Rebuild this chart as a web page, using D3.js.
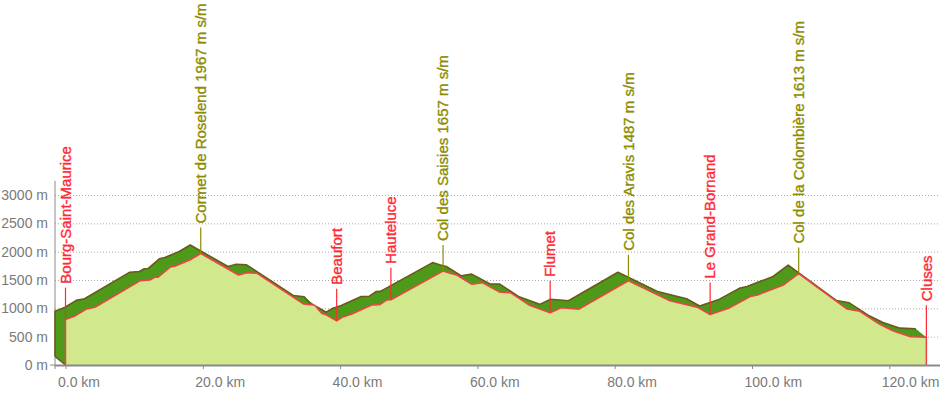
<!DOCTYPE html>
<html><head><meta charset="utf-8">
<script src="https://cdn.jsdelivr.net/npm/d3@7/dist/d3.min.js"></script>
<style>
html,body{margin:0;padding:0;background:#fff;}
svg{display:block;font-family:"Liberation Sans",Arial,Helvetica,sans-serif;}
</style></head>
<body>
<svg id="chart" width="944" height="396"></svg>
<script>
// ---- data ----
const profileKm   = [0, 1.4, 3.1, 4.3, 10.9, 12.3, 13.0, 13.5, 15.2, 16.0, 18.1, 19.7, 25.2, 26.4, 27.9, 34.7, 36.3, 37.3, 38.1, 39.5, 40.3, 41.7, 44.6, 45.8, 46.8, 47.4, 55.0, 56.0, 57.0, 59.2, 60.7, 63.3, 64.8, 67.5, 70.6, 72.2, 74.8, 82.0, 87.9, 92.0, 93.9, 96.6, 99.8, 100.8, 104.6, 106.8, 113.8, 115.7, 118.6, 120.6, 123.1, 125.4];
const profileElev = [800, 865, 990, 1018, 1488, 1500, 1548, 1548, 1724, 1747, 1853, 1967, 1588, 1629, 1618, 1076, 1053, 912, 877, 780, 841, 900, 1059, 1064, 1147, 1150, 1657, 1618, 1588, 1424, 1453, 1283, 1277, 1059, 920, 1010, 985, 1487, 1140, 1020, 890, 1000, 1210, 1235, 1412, 1613, 988, 947, 718, 600, 500, 490];

const labelNames = ["Bourg-Saint-Maurice", "Cormet de Roselend 1967 m s/m", "Beaufort", "Hauteluce", "Col des Saisies 1657 m s/m", "Flumet", "Col des Aravis 1487 m s/m", "Le Grand-Bornand", "Col de la Colombière 1613 m s/m", "Cluses"];
const labelKm    = [0, 19.7, 39.5, 47.4, 55.0, 70.6, 82.0, 93.9, 106.8, 125.4];
const labelTypes = ["town", "col", "town", "town", "col", "town", "col", "town", "col", "town"];

const xTicks = [0, 20, 40, 60, 80, 100, 120];
const yTicks = [0, 500, 1000, 1500, 2000, 2500, 3000];

// ---- layout ----
const svg = d3.select("#chart");
const axisX = 55, rightX = 940;
const x = d3.scaleLinear().domain([0, 120]).range([65.5, 889.3]);
const y = d3.scaleLinear().domain([0, 3000]).range([365, 195]);
const depth = {dx: -10.5, dy: -8.5};

const colors = {
  light: "#d2e88d", dark: "#4f9a1b", darkLine: "#6a5a1c", red: "#f2414a",
  town: "#ff2a35", col: "#8c8c00", axis: "#8a8a8a", text: "#7a7a7a", grid: "#aaaaaa"
};
const font = '"Liberation Sans",Arial,Helvetica,sans-serif';

const data = profileKm.map((k, i) => ({km: k, elev: profileElev[i]}));
const lastKm = profileKm[profileKm.length - 1];

// grid lines
svg.append("g")
  .attr("transform", `translate(${axisX},0)`)
  .call(d3.axisLeft(y).tickValues(yTicks.filter(v => v > 0)).tickSize(-(rightX - axisX)).tickFormat(""))
  .call(g => g.select(".domain").remove())
  .call(g => g.selectAll("line").attr("stroke", colors.grid).attr("stroke-dasharray", "1,2"));

// y axis labels
svg.append("g")
  .attr("transform", `translate(${axisX - 7},0)`)
  .call(d3.axisLeft(y).tickValues(yTicks).tickSize(0).tickPadding(0).tickFormat(d => d + " m"))
  .call(g => g.select(".domain").remove())
  .call(g => g.selectAll("text").attr("fill", colors.text).attr("font-size", 14).attr("font-family", font));

// y axis line
svg.append("line").attr("x1", axisX).attr("x2", axisX).attr("y1", y(3250)).attr("y2", y(0) + 4)
  .attr("stroke", colors.axis).attr("stroke-width", 1);
svg.append("line").attr("x1", axisX - 5).attr("x2", axisX).attr("y1", y(0)).attr("y2", y(0))
  .attr("stroke", colors.axis).attr("stroke-width", 1);

// ---- 3D profile ----
const area = d3.area().x(d => x(d.km)).y0(y(0)).y1(d => y(d.elev));
const topLine = d3.line().x(d => x(d.km)).y(d => y(d.elev));
const areaPath = area(data);

const prof = svg.append("g");
const steps = 24;
for (let s = steps; s >= 1; s--) {
  const t = s / steps;
  prof.append("path").attr("d", areaPath)
    .attr("transform", `translate(${depth.dx * t},${depth.dy * t})`)
    .attr("fill", colors.dark);
}
// back outline
const backPts = [{km: 0, elev: 0}].concat(data);
prof.append("path").attr("d", topLine(backPts))
  .attr("transform", `translate(${depth.dx},${depth.dy})`)
  .attr("fill", "none").attr("stroke", colors.darkLine).attr("stroke-width", 1.6).attr("stroke-linejoin", "round");
prof.append("line")
  .attr("x1", x(0) + depth.dx).attr("y1", y(0) + depth.dy).attr("x2", x(0)).attr("y2", y(0))
  .attr("stroke", colors.darkLine).attr("stroke-width", 1.6);

// front face
prof.append("path").attr("d", areaPath).attr("fill", colors.light);
const frontPts = [{km: 0, elev: 0}].concat(data, [{km: lastKm, elev: 0}]);
prof.append("path").attr("d", topLine(frontPts))
  .attr("fill", "none").attr("stroke", colors.red).attr("stroke-width", 1.5).attr("stroke-linejoin", "round");

// x axis
svg.append("line").attr("x1", axisX).attr("x2", rightX).attr("y1", y(0) + 0.5).attr("y2", y(0) + 0.5)
  .attr("stroke", colors.axis).attr("stroke-width", 2);
svg.append("g")
  .attr("transform", `translate(0,${y(0) + 1})`)
  .call(d3.axisBottom(x).tickValues(xTicks).tickSize(3).tickPadding(8).tickFormat(d => d.toFixed(1) + " km"))
  .call(g => g.select(".domain").remove())
  .call(g => g.selectAll("line").attr("stroke", colors.axis))
  .call(g => g.selectAll("text").attr("fill", colors.text).attr("font-size", 14).attr("font-family", font)
      .attr("text-anchor", "start").attr("x", -8));

// ---- labels ----
const bis = d3.bisector(d => d.km).left;
function elevAt(k) {
  const i = Math.max(1, Math.min(data.length - 1, bis(data, k)));
  const a = data[i - 1], b = data[i];
  const t = (k - a.km) / (b.km - a.km);
  return a.elev + (b.elev - a.elev) * Math.max(0, Math.min(1, t));
}
const leaderLen = {town: 32, col: 26};
labelNames.forEach((name, i) => {
  const k = labelKm[i];
  const px = x(k), py = y(elevAt(k));
  const type = labelTypes[i];
  const c = type === "col" ? colors.col : colors.town;
  const L = leaderLen[type];
  svg.append("line").attr("x1", px).attr("x2", px).attr("y1", py).attr("y2", py - L)
    .attr("stroke", c).attr("stroke-width", 1.2);
  svg.append("text")
    .attr("transform", `translate(${px},${py - L - 4}) rotate(-90)`)
    .attr("dy", "0.35em")
    .attr("fill", c).attr("stroke", c).attr("stroke-width", 0.35)
    .attr("font-size", 15).attr("font-family", font)
    .text(name);
});
</script>
</body></html>
